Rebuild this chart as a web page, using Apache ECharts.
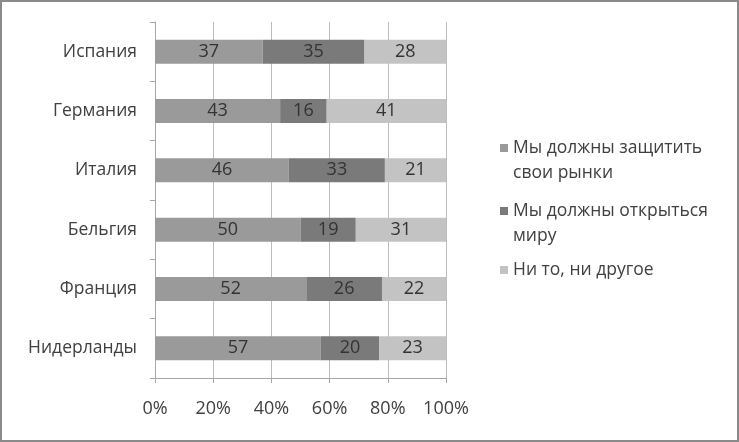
<!DOCTYPE html>
<html>
<head>
<meta charset="utf-8">
<script src="https://cdn.jsdelivr.net/npm/echarts@6/dist/echarts.min.js"></script>
<style>
html,body{margin:0;padding:0;background:#fff;}
#c{width:739px;height:442px;}
</style>
</head>
<body>
<div id="c"></div>
<script>
const categories = ['Испания', 'Германия', 'Италия', 'Бельгия', 'Франция', 'Нидерланды'];
const seriesNames = ['Мы должны защитить свои рынки', 'Мы должны открыться миру', 'Ни то, ни другое'];
const legendLabels = ['Мы должны защитить\nсвои рынки', 'Мы должны открыться\nмиру', 'Ни то, ни другое'];
const protectValues = [37, 43, 46, 50, 52, 57];
const openValues = [35, 16, 33, 19, 26, 20];
const neitherValues = [28, 41, 21, 31, 22, 23];
const xTicks = [0, 20, 40, 60, 80, 100];

const FONT = 'Open Sans';
const colors = ['#9a9a9a', '#7a7a7a', '#c3c3c3'];
const values = [protectValues, openValues, neitherValues];

const chart = echarts.init(document.getElementById('c'));
const legendTops = [110.5, 173.5, 257.5];
const legends = seriesNames.map((n, i) => {
  const multi = legendLabels[i].includes('\n');
  return {
    left: 500,
    top: legendTops[i],
    padding: 0,
    orient: 'vertical',
    icon: 'rect',
    itemWidth: 8,
    itemHeight: 8,
    selectedMode: false,
    data: [n],
    // leading blank line keeps the first text line level with the swatch
    formatter: () => multi ? '\n' + legendLabels[i] : legendLabels[i],
    textStyle: {fontFamily: FONT, fontSize: 17.5, color: '#404040', lineHeight: 25}
  };
});

chart.setOption({
  animation: false,
  color: colors,
  graphic: [{
    type: 'rect',
    shape: {x: 1, y: 1, width: 737, height: 440},
    style: {fill: 'none', stroke: '#8a8a8a', lineWidth: 2},
    silent: true
  }],
  legend: legends,
  grid: {left: 155, right: 293, top: 22, bottom: 64, containLabel: false},
  xAxis: {
    type: 'value',
    min: xTicks[0],
    max: xTicks[xTicks.length - 1],
    interval: 20,
    axisLine: {show: true, lineStyle: {color: '#a6a6a6', width: 1}},
    axisTick: {show: true, length: 5, lineStyle: {color: '#a6a6a6'}},
    splitLine: {show: true, lineStyle: {color: '#bdbdbd', width: 1}},
    axisLabel: {
      formatter: '{value}%',
      fontFamily: FONT, fontSize: 18, color: '#404040', margin: 22
    }
  },
  yAxis: {
    type: 'category',
    inverse: true,
    data: categories,
    axisLine: {show: true, lineStyle: {color: '#a6a6a6', width: 1}},
    axisTick: {show: true, length: 5, lineStyle: {color: '#a6a6a6'}},
    axisLabel: {fontFamily: FONT, fontSize: 17.5, color: '#404040', margin: 18}
  },
  series: seriesNames.map((n, i) => ({
    name: n,
    type: 'bar',
    stack: 'total',
    barWidth: 24,
    data: values[i],
    itemStyle: {color: colors[i]},
    label: {show: true, position: 'inside', fontFamily: FONT, fontSize: 18, color: '#333333'}
  }))
});
</script>
</body>
</html>
